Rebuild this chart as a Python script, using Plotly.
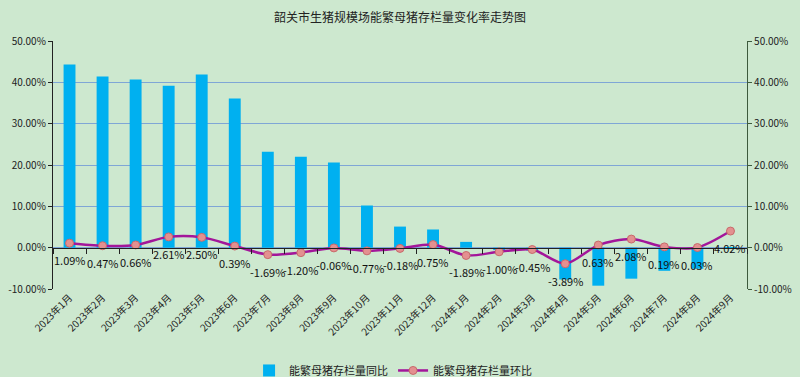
import plotly.graph_objects as go

months = ["2023年1月", "2023年2月", "2023年3月", "2023年4月", "2023年5月", "2023年6月",
          "2023年7月", "2023年8月", "2023年9月", "2023年10月", "2023年11月", "2023年12月",
          "2024年1月", "2024年2月", "2024年3月", "2024年4月", "2024年5月", "2024年6月",
          "2024年7月", "2024年8月", "2024年9月"]

yoy = [44.3, 41.4, 40.7, 39.2, 41.9, 36.1, 23.2, 22.0, 20.6, 10.2, 5.1, 4.4,
       1.4, -0.6, -0.7, -7.7, -9.2, -7.5, -5.6, -5.1, -0.3]

mom = [1.09, 0.47, 0.66, 2.61, 2.50, 0.39, -1.69, -1.20, -0.06, -0.77, -0.18, 0.75,
       -1.89, -1.00, -0.45, -3.89, 0.63, 2.08, 0.19, 0.03, 4.02]

y_min, y_max = -10, 50
y_ticks = [-10, 0, 10, 20, 30, 40, 50]
y_tick_text = ["%.2f%%" % v for v in y_ticks]

name_bar = "能繁母猪存栏量同比"
name_line = "能繁母猪存栏量环比"

font_family = "Noto Sans CJK SC, Microsoft YaHei, sans-serif"
bg = "#cde8cf"

fig = go.Figure()
fig.add_trace(go.Bar(
    x=months, y=yoy, name=name_bar,
    marker=dict(color="#00b0f0", line=dict(width=0)),
    xaxis="x", yaxis="y",
))
fig.add_trace(go.Scatter(
    x=months, y=mom, name=name_line,
    mode="lines+markers",
    line=dict(color="#a3169a", width=2.5, shape="spline", smoothing=0.8),
    marker=dict(size=8, color="#e39090", line=dict(color="#c86a6a", width=1)),
    xaxis="x2", yaxis="y2",
))

annotations = [
    dict(x=m, y=v, xref="x2", yref="y2", text="%.2f%%" % v, showarrow=False,
         yshift=-17, font=dict(size=11, color="#111111"))
    for m, v in zip(months, mom)
]

zero_pos = (0 - y_min) / (y_max - y_min)

fig.update_layout(
    width=800, height=377,
    paper_bgcolor=bg, plot_bgcolor=bg,
    margin=dict(l=53, r=53, t=41, b=88, autoexpand=False),
    font=dict(family=font_family, size=11, color="#222222"),
    title=dict(text="韶关市生猪规模场能繁母猪存栏量变化率走势图", x=0.5, xanchor="center",
               y=0.952, yanchor="middle", font=dict(size=12, color="#222222")),
    bargap=0.64,
    showlegend=True,
    legend=dict(orientation="h", x=0.49, xanchor="center", y=-0.27, yanchor="top",
                font=dict(size=11, color="#222222"), bgcolor="rgba(0,0,0,0)",
                itemwidth=30, tracegroupgap=0),
    annotations=annotations,
    xaxis=dict(
        type="category", categoryorder="array", categoryarray=months,
        range=[-0.5, len(months) - 0.5], automargin=False,
        showgrid=False, showline=False, zeroline=False,
        ticks="", tickangle=-45, tickfont=dict(size=10, color="#222222"),
    ),
    xaxis2=dict(
        type="category", categoryorder="array", categoryarray=months,
        range=[-0.5, len(months) - 0.5], automargin=False,
        overlaying="x", anchor="free", position=zero_pos, side="bottom",
        showgrid=False, zeroline=False, showticklabels=False,
        showline=True, linecolor="#222222", linewidth=1.2,
        ticks="outside", tickson="boundaries", ticklen=5, tickcolor="#222222",
    ),
    yaxis=dict(
        range=[y_min, y_max], tickvals=y_ticks, ticktext=y_tick_text, automargin=False,
        showgrid=True, gridcolor="#7fa6d6", gridwidth=1.2,
        zeroline=False, showline=True, linecolor="#222222", linewidth=1.2,
        ticks="outside", ticklen=4, tickcolor="#222222",
        tickfont=dict(size=10, color="#222222"),
    ),
    yaxis2=dict(
        range=[y_min, y_max], tickvals=y_ticks, ticktext=y_tick_text, automargin=False,
        overlaying="y", side="right", anchor="x",
        showgrid=False, zeroline=False, showline=True, linecolor="#3d5a3d", linewidth=1.2,
        ticks="outside", ticklen=4, tickcolor="#3d5a3d",
        tickfont=dict(size=10, color="#222222"),
    ),
)

fig.write_html("out.html", config={"displayModeBar": False},
               post_script="document.body.style.margin='0';")
